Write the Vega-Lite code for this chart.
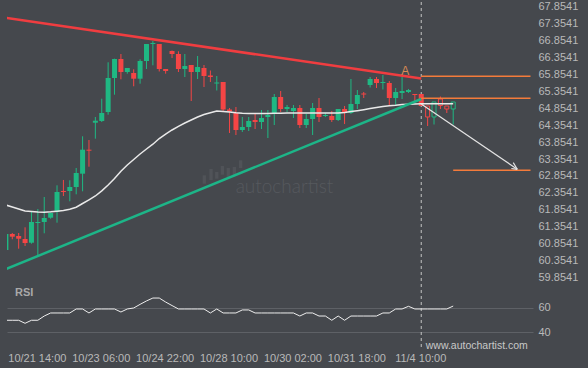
{
  "$schema": "https://vega.github.io/schema/vega-lite/v6.json",
  "background": "#45484d",
  "padding": {"left": 7, "top": 0, "right": 11, "bottom": 5},
  "width": 526,
  "height": 345,
  "config": {
    "view": {"stroke": null}
  },
  "datasets": {
    "candles": [
      {"i":0,"o":60.667,"h":61.139,"l":60.667,"c":61.139,"d":"up","k":"hist","ma":61.996,"rsi":49.9},
      {"i":1,"o":61.139,"h":61.169,"l":60.983,"c":61.060,"d":"dn","k":"hist","ma":61.937,"rsi":49.9},
      {"i":2,"o":61.080,"h":61.169,"l":60.705,"c":61.000,"d":"dn","k":"hist","ma":61.878,"rsi":49.9},
      {"i":3,"o":60.992,"h":61.337,"l":60.785,"c":60.873,"d":"dn","k":"hist","ma":61.819,"rsi":47.4},
      {"i":4,"o":60.882,"h":61.789,"l":60.853,"c":61.494,"d":"up","k":"hist","ma":61.801,"rsi":49.9},
      {"i":5,"o":61.464,"h":61.878,"l":60.510,"c":61.494,"d":"up","k":"hist","ma":61.786,"rsi":49.9},
      {"i":6,"o":61.494,"h":62.232,"l":61.160,"c":61.612,"d":"up","k":"hist","ma":61.783,"rsi":53.4},
      {"i":7,"o":61.621,"h":61.780,"l":61.591,"c":61.760,"d":"up","k":"hist","ma":61.795,"rsi":55.9},
      {"i":8,"o":61.789,"h":62.578,"l":61.473,"c":62.380,"d":"up","k":"hist","ma":61.813,"rsi":55.9},
      {"i":9,"o":62.410,"h":62.735,"l":62.262,"c":62.380,"d":"dn","k":"hist","ma":61.833,"rsi":55.9},
      {"i":10,"o":62.410,"h":62.726,"l":62.105,"c":62.528,"d":"up","k":"hist","ma":61.869,"rsi":55.9},
      {"i":11,"o":62.528,"h":63.089,"l":62.312,"c":62.941,"d":"up","k":"hist","ma":61.931,"rsi":59.2},
      {"i":12,"o":62.921,"h":64.026,"l":62.401,"c":63.630,"d":"up","k":"hist","ma":62.040,"rsi":59.2},
      {"i":13,"o":63.630,"h":63.916,"l":63.127,"c":63.600,"d":"dn","k":"hist","ma":62.150,"rsi":55.9},
      {"i":14,"o":64.427,"h":64.596,"l":63.955,"c":64.486,"d":"up","k":"hist","ma":62.262,"rsi":59.2},
      {"i":15,"o":64.478,"h":65.136,"l":64.448,"c":64.714,"d":"up","k":"hist","ma":62.415,"rsi":59.2},
      {"i":16,"o":64.743,"h":66.212,"l":64.664,"c":65.748,"d":"up","k":"hist","ma":62.587,"rsi":59.2},
      {"i":17,"o":65.748,"h":66.318,"l":65.255,"c":66.309,"d":"up","k":"hist","ma":62.779,"rsi":59.2},
      {"i":18,"o":66.309,"h":66.457,"l":65.709,"c":65.925,"d":"dn","k":"hist","ma":62.994,"rsi":56.7},
      {"i":19,"o":65.925,"h":66.043,"l":65.875,"c":66.043,"d":"up","k":"hist","ma":63.178,"rsi":59.2},
      {"i":20,"o":65.896,"h":66.005,"l":65.503,"c":65.727,"d":"dn","k":"hist","ma":63.340,"rsi":60.0},
      {"i":21,"o":65.727,"h":66.300,"l":65.579,"c":66.250,"d":"up","k":"hist","ma":63.503,"rsi":63.0},
      {"i":22,"o":66.250,"h":66.752,"l":66.014,"c":66.752,"d":"up","k":"hist","ma":63.650,"rsi":65.8},
      {"i":23,"o":66.752,"h":66.841,"l":66.123,"c":66.782,"d":"up","k":"hist","ma":63.792,"rsi":68.2},
      {"i":24,"o":66.752,"h":66.752,"l":65.940,"c":66.014,"d":"dn","k":"hist","ma":63.960,"rsi":68.2},
      {"i":25,"o":66.014,"h":66.014,"l":65.875,"c":65.955,"d":"dn","k":"hist","ma":64.093,"rsi":64.9},
      {"i":26,"o":66.545,"h":66.560,"l":66.339,"c":66.457,"d":"dn","k":"hist","ma":64.212,"rsi":62.0},
      {"i":27,"o":66.457,"h":66.537,"l":65.925,"c":66.014,"d":"dn","k":"hist","ma":64.321,"rsi":59.2},
      {"i":28,"o":66.014,"h":66.457,"l":65.777,"c":66.102,"d":"up","k":"hist","ma":64.418,"rsi":59.2},
      {"i":29,"o":66.132,"h":66.132,"l":65.068,"c":65.925,"d":"dn","k":"hist","ma":64.507,"rsi":59.2},
      {"i":30,"o":65.925,"h":66.398,"l":65.718,"c":66.073,"d":"up","k":"hist","ma":64.596,"rsi":59.2},
      {"i":31,"o":66.043,"h":66.132,"l":65.482,"c":65.807,"d":"dn","k":"hist","ma":64.670,"rsi":59.2},
      {"i":32,"o":65.822,"h":65.969,"l":65.630,"c":65.777,"d":"dn","k":"hist","ma":64.723,"rsi":55.9},
      {"i":33,"o":65.585,"h":65.807,"l":65.379,"c":65.615,"d":"up","k":"hist","ma":64.773,"rsi":59.2},
      {"i":34,"o":65.630,"h":65.630,"l":64.773,"c":64.817,"d":"dn","k":"hist","ma":64.758,"rsi":55.9},
      {"i":35,"o":64.817,"h":64.862,"l":64.123,"c":64.758,"d":"dn","k":"hist","ma":64.743,"rsi":55.9},
      {"i":36,"o":64.714,"h":64.891,"l":64.064,"c":64.212,"d":"dn","k":"hist","ma":64.720,"rsi":55.9},
      {"i":37,"o":64.212,"h":64.596,"l":64.153,"c":64.300,"d":"up","k":"hist","ma":64.705,"rsi":58.4},
      {"i":38,"o":64.300,"h":64.596,"l":64.182,"c":64.478,"d":"up","k":"hist","ma":64.696,"rsi":58.4},
      {"i":39,"o":64.507,"h":64.714,"l":64.241,"c":64.448,"d":"dn","k":"hist","ma":64.696,"rsi":55.9},
      {"i":40,"o":64.448,"h":64.802,"l":64.241,"c":64.566,"d":"up","k":"hist","ma":64.699,"rsi":55.9},
      {"i":41,"o":64.596,"h":64.802,"l":63.975,"c":64.655,"d":"up","k":"hist","ma":64.702,"rsi":55.9},
      {"i":42,"o":64.684,"h":65.275,"l":64.359,"c":65.187,"d":"up","k":"hist","ma":64.705,"rsi":55.9},
      {"i":43,"o":65.187,"h":65.364,"l":64.743,"c":64.832,"d":"dn","k":"hist","ma":64.708,"rsi":55.9},
      {"i":44,"o":64.832,"h":64.950,"l":64.743,"c":64.891,"d":"up","k":"hist","ma":64.711,"rsi":55.9},
      {"i":45,"o":64.773,"h":64.950,"l":64.566,"c":64.862,"d":"up","k":"hist","ma":64.714,"rsi":55.9},
      {"i":46,"o":64.862,"h":64.950,"l":64.271,"c":64.359,"d":"dn","k":"hist","ma":64.714,"rsi":53.4},
      {"i":47,"o":64.359,"h":64.684,"l":64.271,"c":64.537,"d":"up","k":"hist","ma":64.714,"rsi":55.9},
      {"i":48,"o":64.537,"h":65.009,"l":64.064,"c":64.862,"d":"up","k":"hist","ma":64.714,"rsi":55.9},
      {"i":49,"o":64.862,"h":65.157,"l":64.448,"c":64.596,"d":"dn","k":"hist","ma":64.714,"rsi":53.4},
      {"i":50,"o":64.625,"h":64.714,"l":64.596,"c":64.655,"d":"up","k":"hist","ma":64.714,"rsi":53.4},
      {"i":51,"o":64.625,"h":64.773,"l":64.448,"c":64.507,"d":"dn","k":"hist","ma":64.714,"rsi":49.9},
      {"i":52,"o":64.507,"h":64.832,"l":64.478,"c":64.832,"d":"up","k":"hist","ma":64.714,"rsi":53.4},
      {"i":53,"o":64.832,"h":64.921,"l":64.389,"c":64.714,"d":"dn","k":"hist","ma":64.729,"rsi":49.9},
      {"i":54,"o":64.714,"h":65.718,"l":64.684,"c":64.980,"d":"up","k":"hist","ma":64.755,"rsi":53.4},
      {"i":55,"o":64.980,"h":65.393,"l":64.832,"c":65.246,"d":"up","k":"hist","ma":64.782,"rsi":53.4},
      {"i":56,"o":65.290,"h":65.334,"l":65.157,"c":65.260,"d":"dn","k":"hist","ma":64.811,"rsi":53.4},
      {"i":57,"o":65.541,"h":65.777,"l":65.467,"c":65.718,"d":"up","k":"hist","ma":64.844,"rsi":53.4},
      {"i":58,"o":65.718,"h":65.777,"l":65.452,"c":65.600,"d":"dn","k":"hist","ma":64.876,"rsi":53.4},
      {"i":59,"o":65.600,"h":65.836,"l":65.408,"c":65.630,"d":"up","k":"hist","ma":64.909,"rsi":55.9},
      {"i":60,"o":65.600,"h":65.659,"l":64.921,"c":65.157,"d":"dn","k":"hist","ma":64.927,"rsi":55.9},
      {"i":61,"o":65.157,"h":65.452,"l":64.950,"c":65.334,"d":"up","k":"hist","ma":64.941,"rsi":59.2},
      {"i":62,"o":65.305,"h":65.777,"l":65.127,"c":65.364,"d":"up","k":"hist","ma":64.962,"rsi":59.2},
      {"i":63,"o":65.334,"h":65.423,"l":65.305,"c":65.393,"d":"up","k":"hist","ma":64.974,"rsi":61.4},
      {"i":64,"o":65.275,"h":65.275,"l":65.068,"c":65.246,"d":"dn","k":"hist","ma":64.983,"rsi":59.2},
      {"i":65,"o":65.275,"h":65.275,"l":64.921,"c":64.921,"d":"dn","k":"hist","ma":64.989,"rsi":59.2},
      {"i":66,"o":64.921,"h":64.921,"l":64.330,"c":64.596,"d":"dn","k":"fcst","ma":64.989,"rsi":59.2},
      {"i":67,"o":64.596,"h":65.039,"l":64.374,"c":65.039,"d":"up","k":"fcst","ma":64.989,"rsi":59.2},
      {"i":68,"o":65.127,"h":65.201,"l":64.832,"c":64.935,"d":"dn","k":"fcst","ma":64.989,"rsi":59.2},
      {"i":69,"o":64.921,"h":64.921,"l":64.714,"c":64.832,"d":"dn","k":"fcst","ma":64.989,"rsi":59.2},
      {"i":70,"o":64.832,"h":65.039,"l":64.374,"c":65.039,"d":"up","k":"fcst","ma":64.989,"rsi":61.6}
    ],
    "trend": [
      {"line":"res","i":0,"p":67.525},
      {"line":"res","i":65,"p":65.733},
      {"line":"sup","i":0,"p":60.102},
      {"line":"sup","i":65,"p":65.127}
    ],
    "levels": [
      {"i":65,"i2":82.1,"p":65.801},
      {"i":65,"i2":82.1,"p":65.151},
      {"i":70,"i2":82.1,"p":63.021}
    ],
    "arrow": [
      {"i":65,"p":64.980,"i2":80.03,"p2":63.051},
      {"i":79.4,"p":63.246,"i2":80.03,"p2":63.051},
      {"i":79.1,"p":63.074,"i2":80.03,"p2":63.051}
    ],
    "wm": [
      {"i":31.05,"lo":62.625,"hi":62.873},
      {"i":32.1,"lo":62.735,"hi":63.060},
      {"i":33.0,"lo":62.773,"hi":62.971},
      {"i":33.87,"lo":62.891,"hi":63.148},
      {"i":34.8,"lo":62.823,"hi":63.089},
      {"i":35.75,"lo":62.873,"hi":63.119},
      {"i":36.74,"lo":63.089,"hi":63.317}
    ]
  },
  "encoding": {
    "x": {"field": "i", "type": "quantitative", "scale": {"domain": [0.172, 82.49], "nice": false, "zero": false, "padding": 0},
      "axis": {"orient": "bottom", "title": null, "values": [5, 15, 25, 35, 45, 55, 65], "tickCount": 20, "labelPadding": 5, "labelOffset": -1, "labelFlush": false, "labelOverlap": false, "domain": false, "ticks": false, "grid": false, "labelColor": "#b9b9b9", "labelFontSize": 11, "labelFont": "Liberation Sans",
        "labelExpr": "datum.value == 5 ? '10/21 14:00' : datum.value == 15 ? '10/23 06:00' : datum.value == 25 ? '10/24 22:00' : datum.value == 35 ? '10/28 10:00' : datum.value == 45 ? '10/30 02:00' : datum.value == 55 ? '10/31 18:00' : '11/4 10:00'"}}
  },
  "layer": [
    {
      "layer": [
        {
          "data": {"name": "wm"},
          "mark": {"type": "bar", "size": 3.3, "color": "#505358"},
          "encoding": {
            "y": {"field": "lo", "type": "quantitative", "scale": {"domain": [57.801, 67.993], "nice": false, "zero": false, "padding": 0},
              "axis": {"orient": "right", "title": null, "values": [59.8541,60.3541,60.8541,61.3541,61.8541,62.3541,62.8541,63.3541,63.8541,64.3541,64.8541,65.3541,65.8541,66.3541,66.8541,67.3541,67.8541], "tickCount": 30, "format": ".4f", "labelPadding": 5, "labelFlush": false, "labelOverlap": false, "labelBound": false, "domain": false, "ticks": false, "grid": false, "labelColor": "#b9b9b9", "labelFontSize": 11, "labelFont": "Liberation Sans"}},
            "y2": {"field": "hi"}
          }
        },
        {
          "data": {"values": [{"i": 43.6, "p": 62.528, "t": "autochartist"}]},
          "mark": {"type": "text", "font": "Lato", "fontWeight": 300, "fontSize": 19, "color": "#56595e", "align": "center", "baseline": "middle"},
          "encoding": {
            "y": {"field": "p", "type": "quantitative"},
            "text": {"field": "t"}
          }
        },
        {
          "data": {"values": [{"i": 65}]},
          "mark": {"type": "rule", "color": "#c4c4c4", "strokeDash": [3, 3], "strokeWidth": 1}
        },
        {
          "data": {"name": "candles"},
          "mark": {"type": "rule", "strokeWidth": 1, "clip": true},
          "encoding": {
            "y": {"field": "l", "type": "quantitative"},
            "y2": {"field": "h"},
            "color": {"field": "d", "type": "nominal", "scale": {"domain": ["up", "dn"], "range": ["#1fb883", "#f54545"]}, "legend": null}
          }
        },
        {
          "data": {"name": "candles"},
          "transform": [{"filter": "datum.k == 'hist'"}],
          "mark": {"type": "bar", "size": 5, "clip": true},
          "encoding": {
            "y": {"field": "o", "type": "quantitative"},
            "y2": {"field": "c"},
            "color": {"field": "d", "type": "nominal", "scale": {"domain": ["up", "dn"], "range": ["#1fb883", "#f54545"]}, "legend": null}
          }
        },
        {
          "data": {"name": "candles"},
          "transform": [{"filter": "datum.k == 'fcst'"}],
          "mark": {"type": "bar", "size": 4, "fill": "#45484d", "strokeWidth": 1},
          "encoding": {
            "y": {"field": "o", "type": "quantitative"},
            "y2": {"field": "c"},
            "stroke": {"field": "d", "type": "nominal", "scale": {"domain": ["up", "dn"], "range": ["#1fb883", "#f54545"]}, "legend": null}
          }
        },
        {
          "data": {"name": "candles"},
          "mark": {"type": "line", "color": "#e9e9e9", "strokeWidth": 1.5, "clip": true},
          "encoding": {
            "y": {"field": "ma", "type": "quantitative"}
          }
        },
        {
          "data": {"name": "trend"},
          "transform": [{"filter": "datum.line == 'res'"}],
          "mark": {"type": "line", "color": "#f03d40", "strokeWidth": 2.5, "clip": true},
          "encoding": {
            "y": {"field": "p", "type": "quantitative"}
          }
        },
        {
          "data": {"name": "trend"},
          "transform": [{"filter": "datum.line == 'sup'"}],
          "mark": {"type": "line", "color": "#1db588", "strokeWidth": 2.5, "clip": true},
          "encoding": {
            "y": {"field": "p", "type": "quantitative"}
          }
        },
        {
          "data": {"name": "levels"},
          "mark": {"type": "rule", "color": "#f47b3b", "strokeWidth": 1.5},
          "encoding": {
            "x2": {"field": "i2"},
            "y": {"field": "p", "type": "quantitative"}
          }
        },
        {
          "data": {"name": "arrow"},
          "mark": {"type": "rule", "color": "#e4e4e4", "strokeWidth": 1.2},
          "encoding": {
            "x2": {"field": "i2"},
            "y": {"field": "p", "type": "quantitative"},
            "y2": {"field": "p2"}
          }
        },
        {
          "data": {"values": [{"i": 62.5, "p": 65.964, "t": "A"}]},
          "mark": {"type": "text", "font": "Liberation Sans", "fontSize": 12, "color": "#d98a55", "align": "center", "baseline": "middle"},
          "encoding": {
            "y": {"field": "p", "type": "quantitative"},
            "text": {"field": "t"}
          }
        }
      ]
    },
    {
      "layer": [
        {
          "data": {"name": "candles"},
          "mark": {"type": "line", "color": "#eeeeee", "strokeWidth": 1, "clip": true},
          "encoding": {
            "y": {"field": "rsi", "type": "quantitative", "scale": {"domain": [27.9, 311.85], "nice": false, "zero": false},
              "axis": {"orient": "right", "title": null, "values": [40, 60], "grid": true, "gridColor": "#5e6166", "gridWidth": 1, "labelPadding": 5, "labelFlush": false, "labelOverlap": false, "domain": false, "ticks": false, "labelColor": "#b9b9b9", "labelFontSize": 11, "labelFont": "Liberation Sans"}}
          }
        },
        {
          "data": {"values": [{"i": 1.42, "v": 72.35, "t": "RSI"}]},
          "mark": {"type": "text", "font": "Liberation Sans", "fontSize": 11, "fontWeight": "bold", "color": "#a9a9a9", "align": "left", "baseline": "middle"},
          "encoding": {
            "y": {"field": "v", "type": "quantitative"},
            "text": {"field": "t"}
          }
        },
        {
          "data": {"values": [{"i": 65.7, "v": 28.7, "t": "www.autochartist.com"}]},
          "mark": {"type": "text", "font": "Liberation Sans", "fontSize": 10.5, "color": "#c8c8c8", "align": "left", "baseline": "middle"},
          "encoding": {
            "y": {"field": "v", "type": "quantitative"},
            "text": {"field": "t"}
          }
        }
      ]
    }
  ],
  "resolve": {"scale": {"y": "independent"}, "axis": {"y": "independent"}}
}
